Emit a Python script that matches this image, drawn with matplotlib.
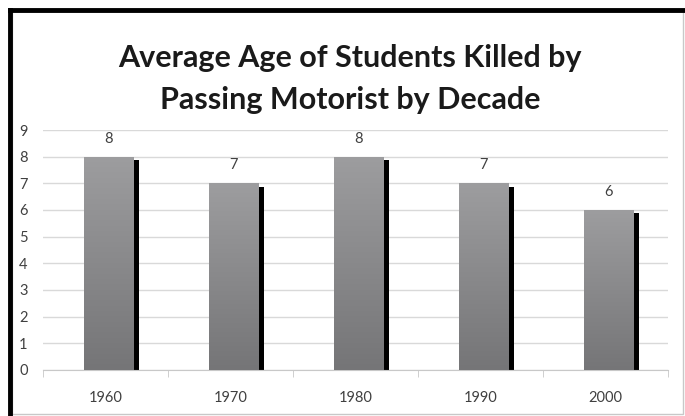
import numpy as np
import matplotlib.pyplot as plt
from matplotlib.patches import Rectangle
from matplotlib.lines import Line2D
from matplotlib.colors import LinearSegmentedColormap

decades = ['1960', '1970', '1980', '1990', '2000']
avg_age = [8, 7, 8, 7, 6]

plt.rcParams['font.family'] = ['Lato', 'DejaVu Sans']

fig = plt.figure(figsize=(6.85, 4.16), dpi=100)
ax = fig.add_axes([0.0628, 0.1106, 0.9122, 0.5769])

x = np.arange(len(decades)) + 0.025
w = 0.4

# black shadow a bit to the right
ax.bar(x + w / 2 + 0.02, np.array(avg_age) - 0.12, width=0.04, color='black', zorder=2)
bars = ax.bar(x, avg_age, width=w, color='none', zorder=3)

# gray vertical gradient, light on top
cmap = LinearSegmentedColormap.from_list('g', ['#757577', '#9d9d9f'])
grad = np.linspace(0, 1, 256).reshape(-1, 1)
for b in bars:
    x0, y0 = b.get_x(), b.get_y()
    im = ax.imshow(grad, extent=[x0, x0 + b.get_width(), y0, y0 + b.get_height()],
                   cmap=cmap, origin='lower', aspect='auto', zorder=3)
    im.set_clip_path(b)

for xi, v in zip(x, avg_age):
    ax.annotate(str(v), (xi, v), xytext=(0, 8), textcoords='offset points',
                ha='center', va='bottom', fontsize=10.5, color='#404040')

ax.set_xlim(-0.5, len(decades) - 0.5)
ax.set_ylim(0, 9)
ax.set_yticks(range(10))
ax.set_xticks(np.arange(len(decades)))
ax.set_xticklabels(decades)
ax.set_xticks(np.arange(-0.5, len(decades)), minor=True)
ax.tick_params(axis='x', which='major', length=0, pad=15, labelsize=10.5, labelcolor='#404040')
ax.tick_params(axis='x', which='minor', length=5, color='#c8c8c8', direction='out')
ax.tick_params(axis='y', length=0, pad=11, labelsize=10.5, labelcolor='#404040')
ax.grid(axis='y', color='#d9d9d9', linewidth=1, zorder=0)
ax.set_axisbelow(True)
for s in ['top', 'right', 'left']:
    ax.spines[s].set_visible(False)
ax.spines['bottom'].set_color('#c8c8c8')

fig.text(0.511, 0.86, 'Average Age of Students Killed by', ha='center', va='center',
         fontsize=22, fontweight='bold', color='#1a1a1a')
fig.text(0.511, 0.76, 'Passing Motorist by Decade', ha='center', va='center',
         fontsize=22, fontweight='bold', color='#1a1a1a')

# frame around the chart
fig.add_artist(Rectangle((0.017, 0.006), 0.98, 0.97, transform=fig.transFigure,
                         fill=False, edgecolor='#c8c8c8', linewidth=1))
fig.add_artist(Line2D([0.0146, 0.0146], [0.0, 0.976], transform=fig.transFigure,
                      color='black', linewidth=3.5))
fig.add_artist(Line2D([0.0146, 1.0], [0.976, 0.976], transform=fig.transFigure,
                      color='black', linewidth=3.5))

fig.savefig('out.png', dpi=100)
